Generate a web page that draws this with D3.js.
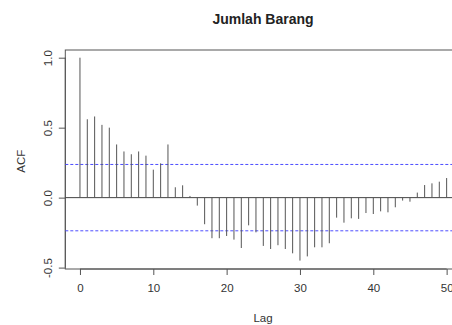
<!DOCTYPE html>
<html>
<head>
<meta charset="utf-8">
<script src="https://cdn.jsdelivr.net/npm/d3@7"></script>
<style>
  body { margin: 0; background: #fff; }
  svg { display: block; font-family: "Liberation Sans", Arial, sans-serif; }
</style>
</head>
<body>
<div id="chart"></div>
<script>
// ACF values, lag 0..50
let lags = d3.range(0, 51)
let acfValues = [
    1.0, 0.56, 0.58, 0.52, 0.50, 0.38, 0.33, 0.31, 0.33, 0.30,
    0.20, 0.245, 0.38, 0.074, 0.088, 0.012, -0.057, -0.19, -0.29, -0.29,
    -0.274, -0.30, -0.36, -0.198, -0.248, -0.345, -0.367, -0.34, -0.367, -0.398,
    -0.45, -0.42, -0.355, -0.355, -0.326, -0.143, -0.179, -0.148, -0.152, -0.11,
    -0.117, -0.098, -0.105, -0.069, -0.021, -0.029, 0.036, 0.09, 0.102, 0.114,
    0.14
]
let ciBound = 0.237
let xTicks = [0, 10, 20, 30, 40, 50]
let yTicks = [-0.5, 0.0, 0.5, 1.0]
let yTickLabels = ["-0.5", "0.0", "0.5", "1.0"]

let width = 452, height = 325

let svg = d3.select("#chart").append("svg")
    .attr("width", width)
    .attr("height", height)

let x = d3.scaleLinear()
    .domain([-2, 52])
    .range([65.3, 461.3])

let y = d3.scaleLinear()
    .domain([-0.51, 1.055])
    .range([269, 50])

let textCol = "#333"
let lineCol = "#555"

// title
svg.append("text")
    .attr("x", 263)
    .attr("y", 24)
    .attr("text-anchor", "middle")
    .attr("font-size", "14px")
    .attr("font-weight", "bold")
    .attr("fill", "#222")
    .text("Jumlah Barang")

// x axis
let xAxis = svg.append("g")
    .attr("transform", `translate(0, ${y(-0.51)})`)
    .call(d3.axisBottom(x).tickValues(xTicks).tickSize(6).tickPadding(9).tickSizeOuter(0))
xAxis.select(".domain").attr("d", `M${x(0)},0H${x(50)}`).attr("stroke", lineCol)
xAxis.selectAll(".tick line").attr("stroke", lineCol)
xAxis.selectAll(".tick text").attr("font-size", "11.5px").attr("fill", textCol).attr("font-family", "Liberation Sans, Arial, sans-serif")

// y axis
let yAxis = svg.append("g")
    .attr("transform", `translate(${x(-2)}, 0)`)
    .call(d3.axisLeft(y).tickValues(yTicks).tickFormat((d, i) => yTickLabels[i]).tickSize(6.5).tickSizeOuter(0))
yAxis.select(".domain").attr("d", `M0,${y(-0.5)}V${y(1)}`).attr("stroke", lineCol)
yAxis.selectAll(".tick line").attr("stroke", lineCol)
yAxis.selectAll(".tick text")
    .attr("x", null).attr("dy", null)
    .attr("transform", "translate(-13.5,0) rotate(-90)")
    .attr("text-anchor", "middle")
    .attr("dominant-baseline", "auto")
    .attr("font-size", "11.5px")
    .attr("fill", textCol)
    .attr("font-family", "Liberation Sans, Arial, sans-serif")

// box
svg.append("rect")
    .attr("x", x(-2))
    .attr("y", y(1.055))
    .attr("width", x(52) - x(-2))
    .attr("height", y(-0.51) - y(1.055))
    .attr("fill", "none")
    .attr("stroke", lineCol)

// zero line
svg.append("line")
    .attr("x1", x(-2)).attr("x2", x(52))
    .attr("y1", y(0)).attr("y2", y(0))
    .attr("stroke", "#444")

// confidence bounds
svg.selectAll(".ci")
    .data([ciBound, -ciBound])
    .enter().append("line")
    .attr("class", "ci")
    .attr("x1", x(-2)).attr("x2", x(52))
    .attr("y1", d => y(d)).attr("y2", d => y(d))
    .attr("stroke", "#4d4dff")
    .attr("stroke-dasharray", "3,2")

// acf spikes
svg.selectAll(".spike")
    .data(lags)
    .enter().append("line")
    .attr("class", "spike")
    .attr("x1", d => x(d)).attr("x2", d => x(d))
    .attr("y1", y(0))
    .attr("y2", d => y(acfValues[d]))
    .attr("stroke", "#555")
    .attr("stroke-width", 1)

// axis titles
svg.append("text")
    .attr("x", 263)
    .attr("y", 322)
    .attr("text-anchor", "middle")
    .attr("font-size", "11.5px")
    .attr("fill", textCol)
    .text("Lag")

svg.append("text")
    .attr("transform", `translate(25, ${y(0.26)}) rotate(-90)`)
    .attr("text-anchor", "middle")
    .attr("font-size", "11.5px")
    .attr("fill", textCol)
    .text("ACF")
</script>
</body>
</html>
